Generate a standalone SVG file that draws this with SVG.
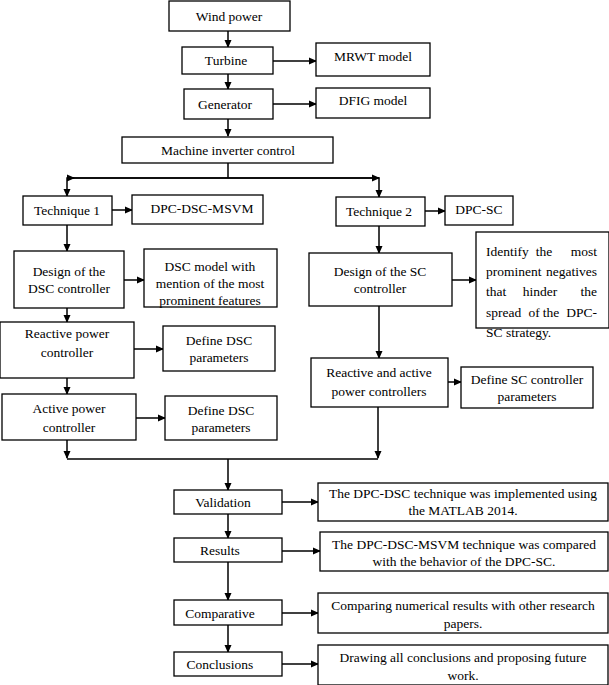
<svg xmlns="http://www.w3.org/2000/svg" width="609" height="685" viewBox="0 0 609 685" font-family="'Liberation Serif', 'Times New Roman', serif" font-size="13.5">
<style>
rect{fill:#fff;stroke:#000;stroke-width:1.3}
text{font-family:'Liberation Serif','Times New Roman',serif;font-size:13.5px;fill:#000;text-anchor:middle}
.j{text-anchor:start}
.e{text-anchor:end}
#c path{fill:none;stroke:#000;stroke-width:1.5}
</style>
<defs><marker id="a" markerWidth="8" markerHeight="8" refX="7" refY="4" orient="auto" markerUnits="userSpaceOnUse"><path d="M0,0.5L8,4L0,7.5z" fill="#000"/></marker></defs>
<rect width="609" height="685" style="stroke:none"/>
<g id="c">
<path d="M228,31V47" marker-end="url(#a)"/>
<path d="M273,61H316" marker-end="url(#a)"/>
<path d="M228,74V89" marker-end="url(#a)"/>
<path d="M273,104H316" marker-end="url(#a)"/>
<path d="M228,119V136" marker-end="url(#a)"/>
<path d="M228,163V178"/>
<path d="M67,178H379"/>
<path d="M228,178H67V196" marker-end="url(#a)"/>
<path d="M228,178H379V197" marker-end="url(#a)"/>
<path d="M67,178H74" marker-end="url(#a)"/>
<path d="M372,178H379" marker-end="url(#a)"/>
<path d="M112,210H132" marker-end="url(#a)"/>
<path d="M425,211H445" marker-end="url(#a)"/>
<path d="M67,225V251" marker-end="url(#a)"/>
<path d="M124,280H144" marker-end="url(#a)"/>
<path d="M379,226V253" marker-end="url(#a)"/>
<path d="M452,280H476" marker-end="url(#a)"/>
<path d="M67,308V322" marker-end="url(#a)"/>
<path d="M134,349H163" marker-end="url(#a)"/>
<path d="M67,378V394" marker-end="url(#a)"/>
<path d="M136,418H165" marker-end="url(#a)"/>
<path d="M379,306V358" marker-end="url(#a)"/>
<path d="M448,382H461" marker-end="url(#a)"/>
<path d="M67,440V458" marker-end="url(#a)"/>
<path d="M378,407V458" marker-end="url(#a)"/>
<path d="M67,459H378"/>
<path d="M228,459V490" marker-end="url(#a)"/>
<path d="M282,502H318" marker-end="url(#a)"/>
<path d="M228,514V538" marker-end="url(#a)"/>
<path d="M282,551H320" marker-end="url(#a)"/>
<path d="M228,562V600" marker-end="url(#a)"/>
<path d="M282,613H318" marker-end="url(#a)"/>
<path d="M228,625V652" marker-end="url(#a)"/>
<path d="M282,664H318" marker-end="url(#a)"/>
</g>
<g id="n1"><rect x="169" y="1" width="121" height="30"/><text x="229" y="21">Wind power</text></g>
<g id="n2"><rect x="182" y="47" width="91" height="27"/><text x="226" y="65">Turbine</text></g>
<g id="n3"><rect x="316" y="43" width="114" height="33"/><text x="373" y="61">MRWT model</text></g>
<g id="n4"><rect x="184" y="89" width="89" height="30"/><text x="225" y="109">Generator</text></g>
<g id="n5"><rect x="316" y="88" width="114" height="30"/><text x="373" y="105">DFIG model</text></g>
<g id="n6"><rect x="122" y="137" width="211" height="26"/><text x="228" y="155">Machine inverter control</text></g>
<g id="n7"><rect x="23" y="196" width="89" height="29"/><text x="67" y="215">Technique 1</text></g>
<g id="n8"><rect x="132" y="195" width="131" height="29"/><text x="202" y="213">DPC-DSC-MSVM</text></g>
<g id="n9"><rect x="336" y="197" width="89" height="29"/><text x="379" y="216">Technique 2</text></g>
<g id="n10"><rect x="445" y="196" width="68" height="29"/><text x="479" y="214">DPC-SC</text></g>
<g id="n11"><rect x="14" y="251" width="110" height="57"/><text x="69" y="276">Design of the</text><text x="69" y="293">DSC controller</text></g>
<g id="n12"><rect x="144" y="249" width="133" height="58"/><text x="210" y="271">DSC model with</text><text x="210" y="288">mention of the most</text><text x="210" y="305">prominent features</text></g>
<g id="n13"><rect x="309" y="253" width="143" height="53"/><text x="380" y="276">Design of the SC</text><text x="380" y="293">controller</text></g>
<g id="n14"><rect x="476" y="232" width="133" height="96"/>
<text class="j" x="486" y="256">Identify</text><text x="544" y="256">the</text><text class="e" x="597" y="256">most</text>
<text class="j" x="486" y="276">prominent</text><text class="e" x="597" y="276">negatives</text>
<text class="j" x="486" y="296">that</text><text x="540" y="296">hinder</text><text class="e" x="597" y="296">the</text>
<text class="j" x="486" y="317">spread</text><text x="534" y="317">of</text><text x="551" y="317">the</text><text class="e" x="597" y="317">DPC-</text>
<text class="j" x="486" y="337">SC</text><text class="j" x="506" y="337">strategy.</text>
</g>
<g id="n15"><rect x="0" y="322" width="134" height="56"/><text x="67" y="338">Reactive power</text><text x="67" y="357">controller</text></g>
<g id="n16"><rect x="163" y="326" width="112" height="45"/><text x="219" y="345">Define DSC</text><text x="219" y="362">parameters</text></g>
<g id="n17"><rect x="2" y="394" width="134" height="46"/><text x="69" y="413">Active power</text><text x="69" y="432">controller</text></g>
<g id="n18"><rect x="165" y="396" width="112" height="44"/><text x="221" y="415">Define DSC</text><text x="221" y="432">parameters</text></g>
<g id="n19"><rect x="311" y="358" width="137" height="49"/><text x="379" y="377">Reactive and active</text><text x="379" y="396">power controllers</text></g>
<g id="n20"><rect x="461" y="367" width="132" height="41"/><text x="527" y="384">Define SC controller</text><text x="527" y="401">parameters</text></g>
<g id="n21"><rect x="174" y="490" width="108" height="24"/><text x="223" y="507">Validation</text></g>
<g id="n22"><rect x="318" y="483" width="290" height="38"/><text x="463" y="498">The DPC-DSC technique was implemented using</text><text x="463" y="515">the MATLAB 2014.</text></g>
<g id="n23"><rect x="174" y="538" width="108" height="24"/><text x="220" y="555">Results</text></g>
<g id="n24"><rect x="320" y="532" width="288" height="39"/><text x="464" y="549">The DPC-DSC-MSVM technique was compared</text><text x="464" y="566">with the behavior of the DPC-SC.</text></g>
<g id="n25"><rect x="174" y="600" width="108" height="25"/><text x="220" y="618">Comparative</text></g>
<g id="n26"><rect x="318" y="593" width="290" height="40"/><text x="463" y="610">Comparing numerical results with other research</text><text x="463" y="628">papers.</text></g>
<g id="n27"><rect x="174" y="652" width="108" height="24"/><text x="220" y="669">Conclusions</text></g>
<g id="n28"><rect x="318" y="645" width="290" height="40"/><text x="463" y="662">Drawing all conclusions and proposing future</text><text x="463" y="680">work.</text></g>
</svg>
